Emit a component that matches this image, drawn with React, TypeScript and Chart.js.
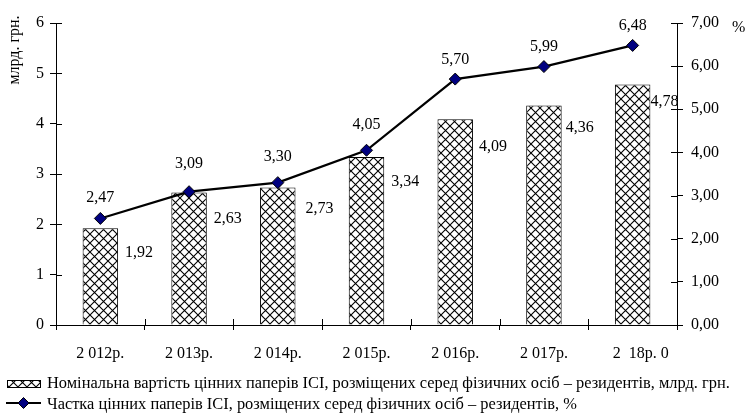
import React, { useEffect, useRef } from "react";
import { Chart, registerables } from "chart.js";

Chart.register(...registerables);

const categories = ["2 012р.", "2 013р.", "2 014р.", "2 015р.", "2 016р.", "2 017р.", "    2  18р. 0"];
const nominalValues = [1.92, 2.63, 2.73, 3.34, 4.09, 4.36, 4.78];
const shareValues = [2.47, 3.09, 3.3, 4.05, 5.7, 5.99, 6.48];
const leftTicks = [0, 1, 2, 3, 4, 5, 6];
const rightTicks = [0, 1, 2, 3, 4, 5, 6, 7];

const barLabel = "Номінальна вартість цінних паперів ІСІ, розміщених серед фізичних осіб – резидентів, млрд. грн.";
const lineLabel = "Частка цінних паперів ІСІ, розміщених серед фізичних осіб – резидентів, %";

// label nudges (px)
const barLabelDx = [7, 7, 10, 7, 6, 4, 0];
const barLabelDy = [24, 26, 21, 25, 28, 22, 17];
const lineLabelDy = [21, 28, 26, 25, 19, 20, 20];

const FONT = "'Liberation Serif', 'Times New Roman', serif";

function fmt(v: number) {
  return v.toFixed(2).replace(".", ",");
}

function makePattern(): CanvasPattern | string {
  const n = 9;
  const c = document.createElement("canvas");
  c.width = n;
  c.height = n;
  const g = c.getContext("2d");
  if (!g) return "#fff";
  g.fillStyle = "#fff";
  g.fillRect(0, 0, n, n);
  g.strokeStyle = "#000";
  g.lineWidth = 1.1;
  g.beginPath();
  g.moveTo(-1, -1);
  g.lineTo(n + 1, n + 1);
  g.moveTo(n + 1, -1);
  g.lineTo(-1, n + 1);
  g.stroke();
  const p = g.createPattern(c, "repeat");
  return p || "#fff";
}

export default function App() {
  const ref = useRef<HTMLCanvasElement | null>(null);

  useEffect(() => {
    const canvas = ref.current;
    if (!canvas) return;
    const pattern = makePattern();

    const extras = {
      id: "extras",
      afterDraw(chart: any) {
        const ctx = chart.ctx;
        const area = chart.chartArea;
        ctx.save();
        ctx.font = `16px ${FONT}`;
        ctx.fillStyle = "#000";

        // inner tick marks
        ctx.strokeStyle = "#000";
        ctx.lineWidth = 1;
        const yS = chart.scales.y;
        const y1S = chart.scales.y1;
        const xS = chart.scales.x;
        ctx.beginPath();
        yS.ticks.forEach((t: any) => {
          const py = Math.round(yS.getPixelForValue(t.value)) + 0.5;
          ctx.moveTo(area.left, py);
          ctx.lineTo(area.left + 6, py);
        });
        y1S.ticks.forEach((t: any) => {
          const py = Math.round(y1S.getPixelForValue(t.value)) + 0.5;
          ctx.moveTo(area.right - 6, py);
          ctx.lineTo(area.right, py);
        });
        for (let i = 1; i < categories.length; i++) {
          const px = Math.round((xS.getPixelForValue(i - 1) + xS.getPixelForValue(i)) / 2) + 0.5;
          ctx.moveTo(px, area.bottom);
          ctx.lineTo(px, area.bottom - 6);
        }
        ctx.stroke();

        // data labels
        const barMeta = chart.getDatasetMeta(0);
        ctx.textBaseline = "middle";
        ctx.textAlign = "left";
        barMeta.data.forEach((el: any, i: number) => {
          ctx.fillText(fmt(nominalValues[i]), el.x + el.width / 2 + barLabelDx[i], el.y + barLabelDy[i]);
        });
        const lineMeta = chart.getDatasetMeta(1);
        ctx.textAlign = "center";
        lineMeta.data.forEach((el: any, i: number) => {
          ctx.fillText(fmt(shareValues[i]), el.x, el.y - lineLabelDy[i]);
        });

        // axis titles
        ctx.save();
        ctx.translate(15, 50);
        ctx.rotate(-Math.PI / 2);
        ctx.textAlign = "center";
        ctx.fillText("млрд. грн.", 0, 0);
        ctx.restore();
        ctx.textAlign = "left";
        ctx.fillText("%", 732, 28);

        // legend
        ctx.font = `16.4px ${FONT}`;
        ctx.textBaseline = "middle";
        ctx.fillStyle = pattern as any;
        ctx.fillRect(7, 380, 33, 7);
        ctx.strokeStyle = "#000";
        ctx.strokeRect(7.5, 380.5, 33, 7);
        ctx.fillStyle = "#000";
        ctx.fillText(barLabel, 47, 384);

        ctx.beginPath();
        ctx.lineWidth = 2;
        ctx.moveTo(6, 403);
        ctx.lineTo(41, 403);
        ctx.stroke();
        ctx.beginPath();
        ctx.moveTo(23.5, 397.5);
        ctx.lineTo(29, 403);
        ctx.lineTo(23.5, 408.5);
        ctx.lineTo(18, 403);
        ctx.closePath();
        ctx.fillStyle = "#000080";
        ctx.fill();
        ctx.lineWidth = 1;
        ctx.stroke();
        ctx.fillStyle = "#000";
        ctx.fillText(lineLabel, 47, 405);

        ctx.restore();
      },
    };

    const chart = new Chart(canvas, {
      type: "bar",
      data: {
        labels: categories,
        datasets: [
          {
            type: "bar",
            label: barLabel,
            data: nominalValues,
            backgroundColor: pattern as any,
            borderColor: "#000",
            borderWidth: 1,
            barPercentage: 0.4,
            categoryPercentage: 1,
            yAxisID: "y",
            order: 2,
          },
          {
            type: "line",
            label: lineLabel,
            data: shareValues,
            borderColor: "#000",
            borderWidth: 2.2,
            pointStyle: "rectRot",
            pointRadius: 6,
            pointBackgroundColor: "#000080",
            pointBorderColor: "#000",
            pointBorderWidth: 1,
            yAxisID: "y1",
            order: 1,
            tension: 0,
          } as any,
        ],
      },
      options: {
        responsive: false,
        animation: false,
        events: [],
        layout: { padding: { top: 23, left: 0, right: 0, bottom: 0 } },
        plugins: {
          legend: { display: false },
          tooltip: { enabled: false },
        },
        scales: {
          x: {
            type: "category",
            offset: true,
            grid: {
              display: true,
              offset: true,
              drawOnChartArea: false,
              drawTicks: true,
              tickLength: 5,
              color: "#000",
            },
            border: { display: true, color: "#000", width: 1 },
            ticks: {
              color: "#000",
              font: { family: FONT, size: 16 },
              padding: 14,
              maxRotation: 0,
              autoSkip: false,
            },
            afterFit(scale: any) {
              scale.height = 95;
            },
          },
          y: {
            type: "linear",
            position: "left",
            min: 0,
            max: 6,
            afterBuildTicks(scale: any) {
              scale.ticks = leftTicks.map((v) => ({ value: v }));
            },
            grid: {
              drawOnChartArea: false,
              drawTicks: true,
              tickLength: 6,
              color: "#000",
            },
            border: { display: true, color: "#000", width: 1 },
            ticks: {
              color: "#000",
              font: { family: FONT, size: 16 },
              padding: 6,
              callback: (v: any) => String(v),
            },
            afterFit(scale: any) {
              scale.width = 56;
            },
          },
          y1: {
            type: "linear",
            position: "right",
            min: 0,
            max: 7,
            afterBuildTicks(scale: any) {
              scale.ticks = rightTicks.map((v) => ({ value: v }));
            },
            grid: {
              drawOnChartArea: false,
              drawTicks: true,
              tickLength: 6,
              color: "#000",
            },
            border: { display: true, color: "#000", width: 1 },
            ticks: {
              color: "#000",
              font: { family: FONT, size: 16 },
              padding: 8,
              callback: (v: any) => fmt(Number(v)),
            },
            afterFit(scale: any) {
              scale.width = 69;
            },
          },
        },
      },
      plugins: [extras],
    });

    return () => chart.destroy();
  }, []);

  return (
    <div style={{ position: "absolute", left: 0, top: 0, width: 746, height: 420, background: "#fff" }}>
      <canvas ref={ref} width={746} height={420} style={{ display: "block", width: 746, height: 420 }} />
    </div>
  );
}
